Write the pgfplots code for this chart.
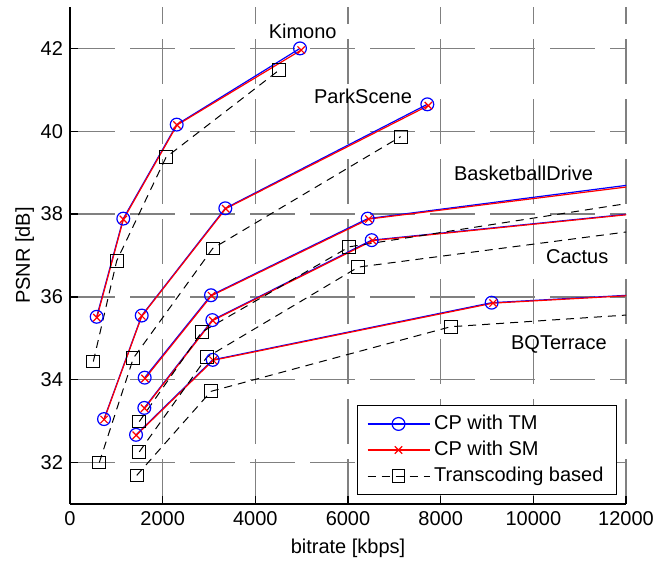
\documentclass[border=0pt]{standalone}
\usepackage{fontspec}
\setmainfont{Liberation Sans}
\usepackage{pgfplots}
\pgfplotsset{compat=1.18}
\begin{document}
\begin{tikzpicture}
\path[use as bounding box] (0,0) rectangle (327pt,280.5pt);
\begin{axis}[
  at={(35pt,28.5pt)}, anchor=south west,
  scale only axis, width=278pt, height=248.5pt,
  xmin=0, xmax=12000, ymin=31, ymax=43,
  xtick={0,2000,...,12000}, ytick={32,34,...,42},
  scaled ticks=false,
  axis lines*=left, axis line style={-, line width=0.6pt},
  tick align=inside, major tick length=4pt, tick style={black, line width=0.6pt},
  grid=major, major grid style={black!50, line width=0.6pt, dash pattern=on 22.5pt off 7.5pt},
  /pgf/number format/1000 sep={}, /pgf/number format/assume math mode=true,
  xlabel={bitrate [kbps]}, ylabel={PSNR [dB]},
  ylabel shift=-3.5pt,
  legend cell align=left,
  legend style={at={(1,0)}, anchor=south east, xshift=-4.5pt, yshift=4.5pt,
    draw=black, line width=0.5pt, fill=white, inner xsep=4.5pt, inner ysep=2.8pt,
    row sep=0.3pt, nodes={inner sep=2pt}},
  legend image code/.code={\draw[mark repeat=2,mark phase=2,#1] plot coordinates {(0pt,0pt) (15.5pt,0pt) (31pt,0pt)};},
]
% CP with TM (blue)
\addplot[blue, line width=0.6pt, mark=o, mark size=3.2pt] coordinates {(576,35.52) (1150,37.89) (2303,40.16) (4964,42.00)};
\addlegendentry{CP with TM}
\addplot[blue, line width=0.6pt, mark=o, mark size=3.2pt, forget plot] coordinates {(734,33.05) (1548,35.55) (3352,38.14) (7712,40.65)};
\addplot[blue, line width=0.6pt, mark=o, mark size=3.2pt, forget plot] coordinates {(1612,34.05) (3043,36.04) (6425,37.89) (14000,38.98)};
\addplot[blue, line width=0.6pt, mark=o, mark size=3.2pt, forget plot] coordinates {(1604,33.32) (3072,35.44) (6511,37.37) (14000,38.22)};
\addplot[blue, line width=0.6pt, mark=o, mark size=3.2pt, forget plot] coordinates {(1425,32.67) (3080,34.48) (9100,35.86) (14000,36.16)};
% CP with SM (red)
\addplot[red, line width=0.6pt, mark=x, mark size=2.6pt] coordinates {(580,35.50) (1152,37.87) (2310,40.15) (4990,41.96)};
\addlegendentry{CP with SM}
\addplot[red, line width=0.6pt, mark=x, mark size=2.6pt, forget plot] coordinates {(736,33.04) (1550,35.54) (3360,38.13) (7734,40.62)};
\addplot[red, line width=0.6pt, mark=x, mark size=2.6pt, forget plot] coordinates {(1618,34.03) (3055,36.03) (6450,37.88) (14000,38.93)};
\addplot[red, line width=0.6pt, mark=x, mark size=2.6pt, forget plot] coordinates {(1608,33.31) (3080,35.43) (6530,37.36) (14000,38.21)};
\addplot[red, line width=0.6pt, mark=x, mark size=2.6pt, forget plot] coordinates {(1430,32.66) (3090,34.47) (9130,35.85) (14000,36.15)};
% Transcoding based (black dashed)
\addplot[black, line width=0.5pt, dash pattern=on 4pt off 3pt, mark=square, mark size=3.2pt, mark options={solid}] coordinates {(503,34.44) (1008,36.87) (2072,39.37) (4518,41.48)};
\addlegendentry{Transcoding based}
\addplot[black, line width=0.5pt, dash pattern=on 4pt off 3pt, mark=square, mark size=3.2pt, mark options={solid}, forget plot] coordinates {(632,32.00) (1367,34.52) (3080,37.17) (7137,39.87)};
\addplot[black, line width=0.5pt, dash pattern=on 4pt off 3pt, mark=square, mark size=3.2pt, mark options={solid}, forget plot] coordinates {(1496,32.99) (2842,35.15) (6029,37.21) (14000,38.60)};
\addplot[black, line width=0.5pt, dash pattern=on 4pt off 3pt, mark=square, mark size=3.2pt, mark options={solid}, forget plot] coordinates {(1496,32.26) (2950,34.54) (6223,36.72) (14000,37.86)};
\addplot[black, line width=0.5pt, dash pattern=on 4pt off 3pt, mark=square, mark size=3.2pt, mark options={solid}, forget plot] coordinates {(1440,31.69) (3043,33.72) (8217,35.28) (14000,35.71)};
% sequence names
\node[anchor=base west] at (axis cs:4138,42.24) {Kimono};
\node[anchor=base west] at (axis cs:5115,40.68) {ParkScene};
\node[anchor=base west] at (axis cs:8137,38.81) {BasketballDrive};
\node[anchor=base west] at (axis cs:10123,36.81) {Cactus};
\node[anchor=base west] at (axis cs:9368,34.74) {BQTerrace};
\end{axis}
\end{tikzpicture}
\end{document}
